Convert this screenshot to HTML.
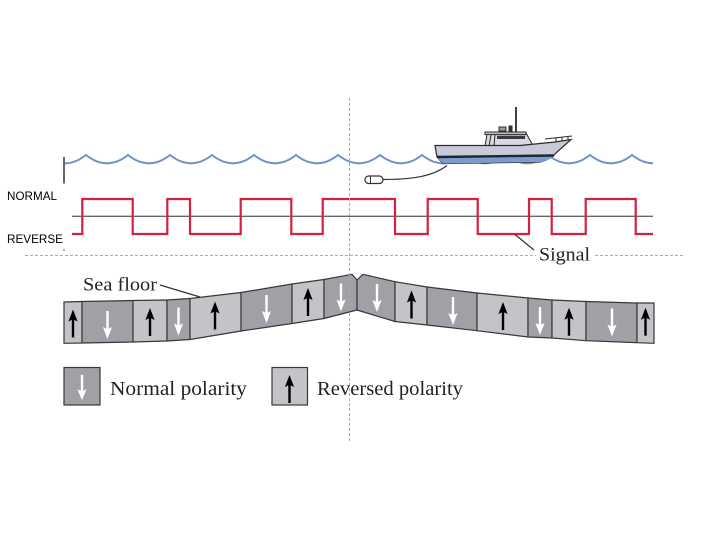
<!DOCTYPE html>
<html><head><meta charset="utf-8"><style>
html,body{margin:0;padding:0;background:#fff;}
svg{display:block;}
</style></head><body>
<svg width="720" height="540" viewBox="0 0 720 540" xmlns="http://www.w3.org/2000/svg">
<defs>
  <g id="aup">
    <path d="M0,-14 L4.6,-2 L0,-4.2 L-4.6,-2 Z" fill="#000"/>
    <rect x="-1.2" y="-5" width="2.4" height="19" fill="#000"/>
  </g>
  <g id="adn">
    <path d="M0,14 L4.6,2 L0,4.2 L-4.6,2 Z" fill="#fff"/>
    <rect x="-1.2" y="-14" width="2.4" height="19" fill="#fff"/>
  </g>
</defs>

<!-- left vertical tick -->
<line x1="64" y1="157" x2="64" y2="183.5" stroke="#333" stroke-width="1.5"/>
<circle cx="64" cy="250" r="0.8" fill="#444"/>

<!-- waves -->
<path d="M65,163.3 Q75.5,163.3 86,155 Q107,171.6 128,155 Q149,171.6 170,155 Q191,171.6 212,155 Q233,171.6 254,155 Q275,171.6 296,155 Q317,171.6 338,155 Q359,171.6 380,155 Q401,171.6 422,155 Q443,171.6 464,155 Q485,171.6 506,155 Q527,171.6 548,155 Q569,171.6 590,155 Q611,171.6 632,155 Q642.5,163.3 653,163.3" fill="none" stroke="#6f93c9" stroke-width="2"/>

<!-- boat -->
<g stroke="#2a2a2a" stroke-width="1">
  <line x1="516" y1="107" x2="516" y2="133" stroke-width="1.8"/>
  <rect x="499" y="127" width="7" height="4" fill="#999"/>
  <rect x="509" y="126" width="3" height="6" fill="#333"/>
  <path d="M485,146 L487,134.5 L526,133 L533,145.5 Z" fill="#d9d9e2"/>
  <rect x="485" y="132" width="41" height="2.6" fill="#bfc0cc"/>
  <line x1="489" y1="146" x2="491" y2="135" stroke-width="1"/>
  <line x1="494" y1="146" x2="495" y2="135" stroke-width="1"/>
  <rect x="497" y="135.8" width="28" height="3.2" fill="#3a3a44" stroke="none"/>
  <path d="M545,139 L572,136" fill="none"/>
  <line x1="556" y1="138" x2="556" y2="142"/>
  <line x1="562" y1="137.3" x2="562" y2="141"/>
  <line x1="568" y1="136.6" x2="568" y2="140"/>
  <path d="M435,145.5 L520,145.5 L555,142 L571,139.5 L557,152 Q550,160 540,162 L443,163.5 L437,157 Z" fill="#c9cad8" stroke-width="1.2"/>
  <path d="M437.5,158 L553,156.5 Q548,161 540,162 L443,163.5 Z" fill="#7c9dc9" stroke="none"/>
  <line x1="437" y1="157" x2="554" y2="155.5" stroke="#1e2538" stroke-width="2.4"/>
</g>

<!-- cable and buoy -->
<path d="M383,179.5 C410,179.5 432,177 447,165.5" fill="none" stroke="#333" stroke-width="1.2"/>
<rect x="365" y="176" width="18" height="7.5" rx="3.7" fill="#fff" stroke="#333" stroke-width="1.2"/>
<line x1="370.5" y1="176.5" x2="370.5" y2="183" stroke="#333" stroke-width="1"/>

<!-- signal -->
<line x1="72" y1="216.3" x2="653" y2="216.3" stroke="#666" stroke-width="1.4"/>
<path d="M72,234 H82.3 V199 H132.7 V234 H167.3 V199 H190 V234 H240.7 V199 H291.3 V234 H322.7 V199 H395 V234 H427.7 V199 H477.7 V234 H529 V199 H551.7 V234 H585.7 V199 H635.7 V234 H653" fill="none" stroke="#d4213d" stroke-width="2.2"/>

<text x="7" y="200" font-family="Liberation Sans, sans-serif" font-size="12" textLength="50" lengthAdjust="spacingAndGlyphs" fill="#000">NORMAL</text>
<text x="7" y="243" font-family="Liberation Sans, sans-serif" font-size="12" textLength="56" lengthAdjust="spacingAndGlyphs" fill="#000">REVERSE</text>

<!-- sea floor blocks -->
<g stroke="#383838" stroke-width="1.2" stroke-linejoin="round">
  <polygon points="64,302 82,301.5 82,343 64,343.3" fill="#c3c3c8"/>
  <polygon points="82,301.5 133,300.5 133,342 82,343" fill="#a0a0a7"/>
  <polygon points="133,300.5 167,300 167,341 133,342" fill="#c3c3c8"/>
  <polygon points="167,300 190,298.5 190,339.5 167,341" fill="#a0a0a7"/>
  <polygon points="190,298.5 241,292.5 241,331 190,339.5" fill="#c3c3c8"/>
  <polygon points="241,292.5 292,284 292,323.5 241,331" fill="#a0a0a7"/>
  <polygon points="292,284 324,279.5 324,318.5 292,323.5" fill="#c3c3c8"/>
  <polygon points="324,279.5 352,274.3 357,280 357,310 324,318.5" fill="#a0a0a7"/>
  <polygon points="357,280 363,274.3 395,281.7 395,321.5 357,310" fill="#a0a0a7"/>
  <polygon points="395,281.7 427,287 427,325 395,321.5" fill="#c3c3c8"/>
  <polygon points="427,287 477,293 477,330.7 427,325" fill="#a0a0a7"/>
  <polygon points="477,293 528,298 528,337 477,330.7" fill="#c3c3c8"/>
  <polygon points="528,298 552,300 552,338 528,337" fill="#a0a0a7"/>
  <polygon points="552,300 586,301.5 586,340.7 552,338" fill="#c3c3c8"/>
  <polygon points="586,301.5 637,303 637,342.7 586,340.7" fill="#a0a0a7"/>
  <polygon points="637,303 654,303 654,343.3 637,342.7" fill="#c3c3c8"/>
</g>
<use href="#aup" transform="translate(73,323.5)"/>
<use href="#adn" transform="translate(107.5,325)"/>
<use href="#aup" transform="translate(150,322)"/>
<use href="#adn" transform="translate(178.5,321.5)"/>
<use href="#aup" transform="translate(215,315.5)"/>
<use href="#adn" transform="translate(266.5,309)"/>
<use href="#aup" transform="translate(308,302)"/>
<use href="#adn" transform="translate(341,297.5)"/>
<use href="#adn" transform="translate(377,298)"/>
<use href="#aup" transform="translate(411.5,304.5)"/>
<use href="#adn" transform="translate(453,311)"/>
<use href="#aup" transform="translate(503,316)"/>
<use href="#adn" transform="translate(540,321)"/>
<use href="#aup" transform="translate(569,321.7)"/>
<use href="#adn" transform="translate(612,322.5)"/>
<use href="#aup" transform="translate(645.5,321.7)"/>

<!-- sea floor label -->
<text x="83" y="290.5" font-family="Liberation Serif, serif" font-size="19" textLength="74" lengthAdjust="spacingAndGlyphs" fill="#222">Sea floor</text>
<line x1="160" y1="285" x2="200" y2="297" stroke="#333" stroke-width="1.2"/>

<!-- dashed guides -->
<line x1="25" y1="255.5" x2="683" y2="255.5" stroke="#aaa" stroke-width="1" stroke-dasharray="3,2"/>
<line x1="349.5" y1="98" x2="349.5" y2="441" stroke="#aaa" stroke-width="1" stroke-dasharray="3,2"/>

<!-- signal label -->
<rect x="536" y="245" width="57" height="17" fill="#fff"/>
<line x1="515" y1="234.5" x2="534" y2="250" stroke="#333" stroke-width="1.2"/>
<text x="539" y="260.5" font-family="Liberation Serif, serif" font-size="19" textLength="51" lengthAdjust="spacingAndGlyphs" fill="#222">Signal</text>

<!-- legend -->
<rect x="64" y="367.5" width="36" height="37.5" fill="#a0a0a7" stroke="#383838" stroke-width="1.2"/>
<use href="#adn" transform="translate(82,387.5) scale(1,0.9)"/>
<text x="110" y="395" font-family="Liberation Serif, serif" font-size="20" textLength="137" lengthAdjust="spacingAndGlyphs" fill="#222">Normal polarity</text>
<rect x="272" y="367.5" width="35.5" height="37.5" fill="#c3c3c8" stroke="#383838" stroke-width="1.2"/>
<use href="#aup" transform="translate(289.5,389)"/>
<text x="317" y="395" font-family="Liberation Serif, serif" font-size="20" textLength="146" lengthAdjust="spacingAndGlyphs" fill="#222">Reversed polarity</text>
</svg>
</body></html>
